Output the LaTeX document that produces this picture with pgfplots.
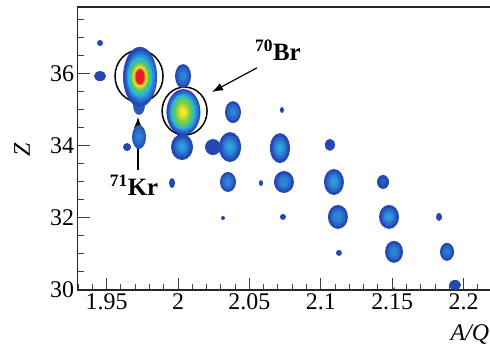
\documentclass[border=0pt]{standalone}
\usepackage{pgfplots}
\pgfplotsset{compat=1.18}
\usepackage{pgfplotstable}
\usepackage{fontspec}
\setmainfont{Liberation Serif}
\usetikzlibrary{arrows.meta}

\pgfdeclareplotmark{blob}{%
  \pgfpathellipse{\pgfpointorigin}{\pgfqpoint{\rx bp}{0pt}}{\pgfqpoint{0pt}{\ry bp}}%
  \pgfusepathqfill}

% x = A/Q, y = Z, rx/ry = half widths (bp), c = intensity level
\pgfplotstableread{
x y rx ry c
1.9454 35.94 6 5 0
1.9454 36.86 3 3 0
1.9643 33.97 4 4 0
1.9727 35.14 6 10 0.3
1.9727 34.25 7 12 0.3
1.9727 34.25 5 8 0.7
1.9727 34.25 3 4 1.1
1.9734 35.92 17 30 0
1.9740 35.92 15.5 26 0.6
1.9740 35.92 14 23 1.2
1.9734 35.92 12.5 20 2
1.9734 35.92 11 17.5 2.5
1.9734 35.92 9.5 15 3
1.9734 35.92 8.5 13.5 3.5
1.9734 35.92 7.5 12 4
1.9734 35.92 7 10.5 5
1.9734 35.92 6 9 6
1.9734 35.92 4.5 7.5 7
2.0035 35.94 8 12 0
2.0035 35.94 6 9 0.6
2.0035 35.94 3.5 5 1.1
2.0038 34.94 17 23 0
2.0040 34.94 15.5 21 0.6
2.0040 34.94 14 19 1.2
2.0035 34.94 12.5 17.5 2
2.0035 34.94 11 16 2.5
2.0035 34.94 9.5 14.5 3
2.0035 34.94 8 13 3.4
2.0035 34.94 6 9 4
2.0035 34.94 4.5 6.5 4.5
2.0035 34.94 3 4.5 5
2.0028 33.97 11 13 0
2.0028 33.97 8 9.5 0.6
2.0028 33.97 5.5 6.5 1.2
2.0028 33.97 3 3.5 1.6
2.0385 34.94 8 11 0
2.0385 34.94 6 8 0.6
2.0385 34.94 3.5 4.5 1.1
2.0245 33.97 8 8 0
2.0364 33.97 11 15 0
2.0364 33.97 8.5 11.5 0.6
2.0364 33.97 6 8 1.2
2.0364 33.97 3.5 4.5 1.7
2.0714 33.94 10 15 0
2.0714 33.94 7.5 11.5 0.6
2.0714 33.94 5.5 8 1.2
2.0714 33.94 3 4.5 1.7
2.1064 34.03 5 6 0
2.0728 35.00 2 3 0
2.0350 33.00 8 10 0
2.0350 33.00 6 7.5 0.6
2.0350 33.00 3.5 4.5 1.1
2.0742 33.00 10 11 0
2.0742 33.00 7.5 8 0.6
2.0742 33.00 5 5.5 1.1
2.1092 33.00 10 13 0
2.1092 33.00 7.5 10 0.6
2.1092 33.00 5 7 1.2
2.1092 33.00 3 4 1.6
2.1436 33.00 6 7 0
2.1436 33.00 3 3.5 0.4
1.9958 32.97 3 5 0
2.0581 32.97 2 3 0
2.1120 32.03 10 12 0
2.1120 32.03 7.5 9 0.6
2.1120 32.03 5 6 1.1
2.1478 32.03 10 12 0
2.1478 32.03 7.5 9 0.6
2.1478 32.03 5 6 1.2
2.1478 32.03 3 3.5 1.6
2.1828 32.03 3 4 0
2.0315 32.00 2 2 0
2.0735 32.03 3 3 0
2.1513 31.06 9 11 0
2.1513 31.06 6.5 8 0.6
2.1513 31.06 4 5 1.1
2.1884 31.06 7 9 0
2.1884 31.06 5 6.5 0.5
2.1884 31.06 3 4 0.9
2.1127 31.03 3 3 0
2.1940 30.14 6 5 0
2.1513 30.05 1 1 0
}\blobs

\begin{document}
\begin{tikzpicture}
\begin{axis}[
  name=ax,
  scale only axis,
  width=412.5bp, height=283bp,
  xmin=1.9296, xmax=2.2185,
  ymin=30, ymax=37.86,
  axis lines=left,
  axis line style={-, line width=1.5bp, black!85},
  xtick={1.95,2,2.05,2.1,2.15,2.2},
  minor xtick={1.93,1.94,1.96,1.97,1.98,1.99,2.01,2.02,2.03,2.04,2.06,2.07,2.08,2.09,2.11,2.12,2.13,2.14,2.16,2.17,2.18,2.19,2.21},
  ytick={30,32,34,36},
  minor ytick={30.5,31,31.5,32.5,33,33.5,34.5,35,35.5,36.5,37,37.5},
  tick align=inside,
  major tick length=12bp,
  minor tick length=6bp,
  every tick/.style={line width=1bp, black!75},
  /pgf/number format/assume math mode=true,
  xticklabel={\pgfmathprintnumber{\tick}},
  yticklabel={\pgfmathprintnumber{\tick}},
  tick label style={font=\rmfamily\fontsize{24}{24}\selectfont},
  xlabel={\textit{A/Q}},
  ylabel={\textit{Z}},
  label style={font=\rmfamily\fontsize{24}{24}\selectfont},
  xlabel style={at={(axis description cs:0.951,-0.159)}, anchor=center},
  ylabel style={at={(axis description cs:-0.1345,0.495)}, anchor=center},
  colormap={pid}{rgb255=(38,72,178) rgb255=(45,125,212) rgb255=(40,180,225) rgb255=(80,198,110) rgb255=(170,215,50) rgb255=(245,230,45) rgb255=(245,140,40) rgb255=(230,30,35)},
  point meta min=0, point meta max=7,
  extra description/.code={\draw[line width=1.5bp, black!85] (0,1) -- (1,1);},
]
\addplot[scatter, only marks, mark=blob,
  visualization depends on={\thisrow{rx} \as \rx},
  visualization depends on={\thisrow{ry} \as \ry},
  point meta=explicit] table[x=x, y=y, meta=c] {\blobs};

\draw[line width=1.5bp] (axis cs:1.9727,35.94) ellipse [x radius=24bp, y radius=26bp];
\draw[line width=1.5bp] (axis cs:2.0046,34.97) ellipse [x radius=22.5bp, y radius=24bp];
\draw[line width=1.2bp, -{Latex[length=11bp,width=8bp]}] (axis cs:2.0553,36.17) -- (axis cs:2.0238,35.50);
\draw[line width=1.2bp, -{Latex[length=11bp,width=8bp]}] (axis cs:1.9720,33.33) -- (axis cs:1.9720,34.81);
\node[font=\rmfamily\fontsize{25}{25}\selectfont\bfseries] at (axis cs:2.070,36.67) {\textsuperscript{70}Br};
\node[font=\rmfamily\fontsize{25}{25}\selectfont\bfseries] at (axis cs:1.9692,32.92) {\textsuperscript{71}Kr};
\end{axis}
\pgfresetboundingbox
\path[use as bounding box] ([xshift=-77.5bp,yshift=-54bp]ax.south west) rectangle ([yshift=7bp]ax.north east);
\end{tikzpicture}
\end{document}
